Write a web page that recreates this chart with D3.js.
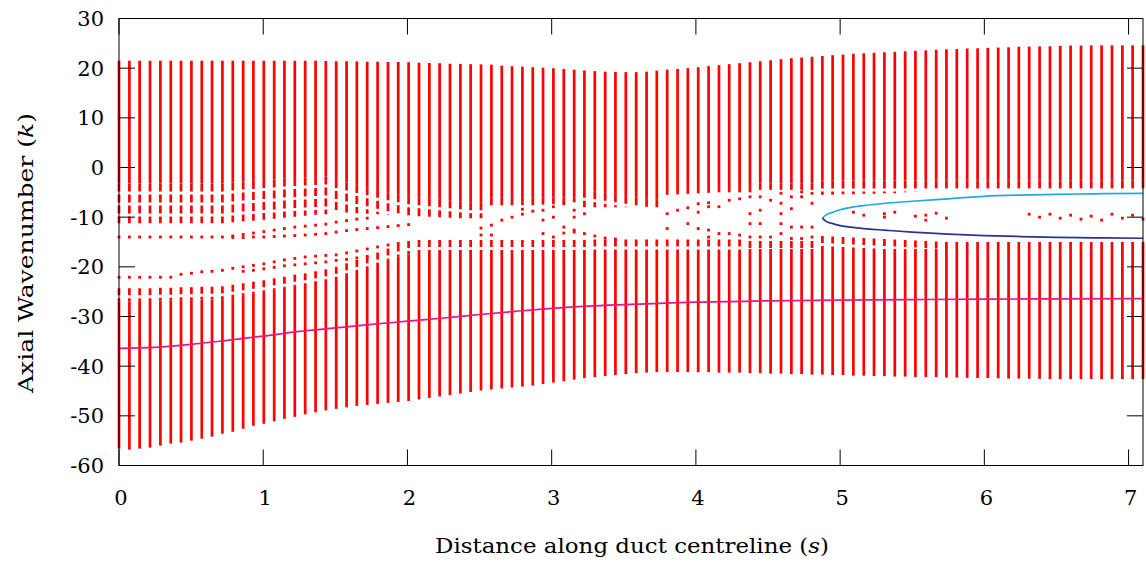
<!DOCTYPE html>
<html>
<head>
<meta charset="utf-8">
<script src="https://cdn.jsdelivr.net/npm/d3@7"></script>
<style>
  body { margin: 0; background: #fff; }
  svg { display: block; }
  text { font-family: "DejaVu Serif", "Liberation Serif", serif; fill: #000; }
</style>
</head>
<body>
<svg id="chart" width="1146" height="565"></svg>
<script>
// Column positions along the duct (s)
const sCols = [0.000,0.072,0.143,0.215,0.287,0.359,0.430,0.502,0.574,0.645,0.717,0.789,0.861,0.932,1.004,1.076,1.147,1.219,1.291,1.363,
  1.434,1.506,1.578,1.649,1.721,1.793,1.865,1.936,2.008,2.080,2.152,2.223,2.295,2.367,2.438,2.510,2.582,2.654,2.725,2.797,
  2.869,2.940,3.012,3.084,3.156,3.227,3.299,3.371,3.442,3.514,3.586,3.658,3.729,3.801,3.873,3.944,4.016,4.088,4.160,4.231,
  4.303,4.375,4.446,4.518,4.590,4.662,4.733,4.805,4.877,4.948,5.020,5.092,5.164,5.235,5.307,5.379,5.451,5.522,5.594,5.666,
  5.737,5.809,5.881,5.953,6.024,6.096,6.168,6.239,6.311,6.383,6.455,6.526,6.598,6.670,6.741,6.813,6.885,6.957,7.028,7.100];

// top / bottom of each eigenvalue column (k)
const kTop = [21.5,21.5,21.5,21.5,21.5,21.5,21.5,21.5,21.5,21.5,21.5,21.5,21.5,21.5,21.5,21.5,21.5,21.5,21.5,21.5,
  21.45,21.4,21.4,21.35,21.3,21.3,21.25,21.25,21.2,21.1,21.05,21.0,20.9,20.85,20.8,20.75,20.7,20.5,20.4,20.3,
  20.2,20.1,20.0,19.85,19.7,19.55,19.4,19.3,19.25,19.2,19.2,19.3,19.5,19.7,19.85,20.0,20.2,20.4,20.6,20.8,
  21.0,21.2,21.4,21.6,21.8,22.0,22.15,22.3,22.45,22.6,22.75,22.9,23.0,23.1,23.2,23.3,23.4,23.5,23.6,23.7,
  23.8,23.85,23.95,24.0,24.1,24.15,24.2,24.3,24.35,24.4,24.4,24.5,24.55,24.55,24.6,24.6,24.6,24.6,24.6,24.6];
const kBot = [-56.6,-56.8,-56.6,-56.4,-56.0,-55.6,-55.4,-55.0,-54.6,-54.2,-53.6,-53.2,-52.6,-52.0,-51.6,-51.1,-50.6,-50.2,-49.7,-49.3,
  -48.9,-48.6,-48.3,-48.0,-47.8,-47.6,-47.4,-47.2,-47.0,-46.7,-46.4,-46.1,-45.8,-45.5,-45.2,-44.9,-44.7,-44.5,-44.3,-44.1,
  -43.9,-43.6,-43.3,-43.0,-42.7,-42.4,-42.2,-42.0,-41.8,-41.6,-41.4,-41.3,-41.2,-41.2,-41.2,-41.2,-41.2,-41.2,-41.3,-41.3,
  -41.3,-41.4,-41.4,-41.5,-41.5,-41.6,-41.6,-41.7,-41.7,-41.8,-41.8,-41.9,-41.9,-42.0,-42.0,-42.1,-42.1,-42.2,-42.2,-42.2,
  -42.3,-42.3,-42.35,-42.4,-42.4,-42.45,-42.5,-42.5,-42.55,-42.55,-42.6,-42.6,-42.6,-42.6,-42.6,-42.6,-42.6,-42.6,-42.6,-42.6];

// upper block: solid down to uSolid, clustered down to uClust
const uSolid = [-3.2,-3.2,-3.2,-3.2,-3.2,-3.2,-3.2,-3.2,-3.2,-3.2,-3.2,-3.0,-2.8,-2.7,-2.5,-2.4,-2.2,-2.1,-2.0,-1.9,
  -1.8,-2.5,-3.0,-3.5,-4.0,-4.5,-5.0,-5.4,-5.8,-6.0,-6.2,-6.4,-6.6,-6.8,-7.0,-7.0,-6.0,-6.0,-6.0,-6.0,
  -6.0,-6.0,-6.0,-6.0,-6.0,-4.5,-4.8,-5.1,-5.4,-5.7,-6.0,-6.3,-6.5,-4.5,-4.5,-4.5,-4.5,-4.5,-4.5,-4.5,
  -4.5,-4.5,-3.2,-3.2,-3.2,-3.2,-3.2,-3.2,-2.6,-2.6,-2.6,-2.6,-2.6,-2.6,-2.6,-2.6,-2.6,-2.6,-2.6,-2.6,
  -2.6,-2.6,-2.6,-2.6,-2.6,-2.6,-2.6,-2.6,-2.6,-2.6,-2.6,-2.6,-2.6,-2.6,-2.6,-2.6,-2.6,-2.6,-2.6,-2.6];
const uClust = [-11.2,-11.2,-11.2,-11.2,-11.2,-11.2,-11.2,-11.2,-11.2,-11.2,-11.2,-11.0,-10.8,-10.7,-10.5,-10.3,-10.1,-9.9,-9.7,-9.5,
  -9.4,-9.0,-9.1,-9.2,-9.3,-9.4,-9.5,-9.6,-9.7,-9.8,-9.9,-10.0,-10.1,-10.2,-10.2,-10.2,-8.0,-7.9,-7.8,-7.7,
  -7.6,-7.5,-7.4,-7.2,-7.0,-8.0,-8.0,-8.0,-8.0,-8.0,-8.0,-8.0,-8.0,-5.5,-5.4,-5.3,-5.2,-5.1,-5.0,-5.0,
  -5.0,-5.0,-4.5,-4.5,-4.5,-4.5,-4.5,-4.5,-5.5,-5.5,-5.4,-5.4,-5.3,-5.3,-5.2,-5.2,-5.0,-4.9,-4.8,-4.7,
  -4.5,-4.3,-4.3,-4.3,-4.3,-4.3,-4.3,-4.3,-4.3,-4.3,-4.3,-4.3,-4.3,-4.3,-4.3,-4.3,-4.3,-4.3,-4.3,-4.3];

// lower block: clustered from lClust, solid from lSolid down to kBot
const lClust = [-24.3,-24.3,-24.3,-24.3,-24.2,-24.2,-24.1,-24.1,-24.0,-24.0,-23.9,-23.6,-23.3,-23.0,-22.7,-22.3,-22.0,-21.6,-21.3,-20.9,
  -20.5,-20.0,-19.3,-18.6,-17.9,-17.1,-16.3,-15.5,-14.8,-14.6,-14.6,-14.6,-14.6,-14.6,-14.6,-14.6,-14.6,-14.6,-14.6,-14.6,
  -14.6,-14.6,-14.6,-14.6,-14.6,-14.6,-14.5,-14.5,-14.5,-14.5,-14.5,-14.5,-14.5,-14.5,-14.5,-14.5,-14.5,-14.5,-14.5,-14.5,
  -14.5,-14.8,-14.8,-14.8,-14.8,-14.8,-14.8,-14.8,-13.8,-13.9,-14.0,-14.1,-14.2,-14.3,-14.4,-14.5,-14.6,-14.7,-14.8,-14.9,
  -15.0,-15.0,-15.0,-15.0,-15.0,-15.0,-15.0,-15.0,-15.0,-15.0,-15.0,-15.0,-15.0,-15.0,-15.0,-15.0,-15.0,-15.0,-15.0,-15.0];
const lSolid = [-27.0,-27.0,-26.9,-26.9,-26.8,-26.8,-26.7,-26.7,-26.6,-26.6,-26.5,-26.1,-25.7,-25.3,-24.9,-24.5,-24.1,-23.7,-23.3,-22.9,
  -22.5,-22.0,-21.3,-20.6,-19.9,-19.2,-18.5,-17.9,-17.5,-17.0,-17.0,-17.0,-17.0,-17.0,-17.0,-17.0,-17.0,-17.0,-17.0,-17.0,
  -17.0,-17.0,-17.0,-17.0,-17.0,-17.0,-16.8,-16.8,-16.8,-16.8,-16.8,-16.8,-16.8,-16.8,-16.8,-16.8,-16.8,-16.8,-16.8,-16.8,
  -16.8,-16.4,-16.4,-16.4,-16.4,-16.4,-16.4,-16.4,-16.4,-16.4,-16.4,-16.4,-16.4,-16.4,-16.4,-16.4,-16.4,-16.4,-16.4,-16.4,
  -16.4,-16.4,-16.4,-16.4,-16.4,-16.4,-16.4,-16.4,-16.4,-16.4,-16.4,-16.4,-16.4,-16.4,-16.4,-16.4,-16.4,-16.4,-16.4,-16.4];

// isolated eigenvalues in the gap, [column index, k]
const modeA = [[0,-14],[1,-14],[2,-14],[3,-14],[4,-14],[5,-14],[6,-14],[7,-14],[8,-14],[9,-14],[10,-14],
  [11,-13.8],[12,-13.5],[13,-13.2],[14,-12.9],[15,-12.6],[16,-12.3],[17,-12.0],[18,-11.8],[19,-11.6],[20,-11.4],
  [21,-11.0],[22,-10.7],[23,-10.4],[24,-10.2]];
const modeB = [[11,-14.1],[12,-14.1],[13,-14.0],[14,-14.0],[15,-13.9],[16,-13.8],[17,-13.7],[18,-13.6],[19,-13.45],
  [20,-13.3],[21,-13.0],[22,-12.7],[23,-12.5],[24,-12.3],[25,-12.1],[26,-11.9],[27,-11.7],[28,-11.5]];
const modeC = [[0,-22.1],[1,-22.1],[2,-22.1],[3,-22.1],[4,-22.1],[5,-22.1],[6,-21.5],[7,-21.3],[8,-21.0],[9,-20.9],
  [10,-20.7],[11,-20.3],[12,-20.0],[13,-19.7],[14,-19.4],[15,-19.0],[16,-18.6],[17,-18.3],[18,-18.0],[19,-17.85],
  [20,-17.7],[21,-17.6],[22,-17.2],[23,-16.8],[24,-16.4],[25,-16.0],[26,-15.6],[27,-15.3]];
const modeD = [[12,-20.9],[13,-20.7],[14,-20.4],[15,-20.1],[16,-19.8],[17,-19.6],[18,-19.4],[19,-19.2],[20,-19.0],
  [21,-18.7],[22,-18.5],[23,-18.2],[24,-17.9]];
const midDots = [[35,-12.2],[35,-13.6],[36,-11.6],[36,-13.6],[37,-10.6],[38,-10.0],[39,-9.4],[39,-8.4],[40,-8.8],
  [41,-8.6],[41,-10.6],[41,-13.3],[42,-7.9],[42,-10.0],[42,-14.0],[43,-7.3],[43,-12.0],[43,-13.2],[44,-8.6],[44,-10.0],
  [44,-12.6],[44,-13.0],[45,-9.3],[45,-13.3],[46,-13.8],[47,-14.2],[48,-14.4]];
const lensDots = [[53,-9.3],[53,-12.3],[54,-8.6],[55,-8.1],[55,-11.3],[56,-7.3],[56,-9.0],[56,-12.3],[57,-7.1],[57,-7.9],
  [57,-12.6],[57,-14.0],[58,-7.9],[58,-13.3],[59,-6.6],[59,-13.3],[60,-6.3],[60,-13.6],[61,-5.9],[61,-9.3],[61,-11.3],[61,-14.0],
  [62,-5.9],[62,-8.6],[62,-11.3],[62,-14.0],[63,-6.6],[63,-14.0],[64,-5.2],[64,-7.2],[64,-9.3],[64,-11.3],[64,-13.3],
  [65,-5.9],[65,-8.3],[65,-12.0],[65,-14.3],[66,-4.9],[66,-5.9],[66,-12.0],[66,-14.3],[67,-5.2],[67,-7.2],[67,-12.0],[67,-14.0]];
const rightDots = [[71,-9.0],[72,-9.6],[74,-9.3],[74,-10.0],[75,-9.0],[77,-9.8],[78,-9.6],[78,-10.6],[79,-9.2],[80,-10.2],
  [88,-9.4],[89,-10.0],[90,-9.4],[91,-10.2],[92,-9.6],[93,-10.4],[94,-9.8],[95,-10.6],[96,-9.4],[97,-10.2],[98,-9.6],[99,-10.4]];

// tracked modes
const magS = [0,0.25,0.5,0.75,1.0,1.25,1.5,1.75,2.0,2.25,2.5,2.75,3.0,3.25,3.5,3.75,4.0,4.5,5.0,5.5,6.0,6.5,7.1];
const magK = [-36.4,-36.2,-35.6,-34.8,-33.95,-33.0,-32.3,-31.6,-30.95,-30.3,-29.6,-28.95,-28.35,-27.9,-27.6,-27.35,-27.1,-26.85,-26.7,-26.6,-26.5,-26.45,-26.4];
const cyanS = [4.877,4.90,4.95,5.0,5.1,5.2,5.3,5.5,5.75,6.0,6.25,6.5,6.75,7.1];
const cyanK = [-10.2,-9.6,-9.0,-8.5,-7.9,-7.55,-7.25,-6.8,-6.3,-5.8,-5.55,-5.4,-5.3,-5.2];
const navyS = [4.877,4.90,4.95,5.0,5.1,5.2,5.3,5.5,5.75,6.0,6.25,6.5,6.75,7.1];
const navyK = [-10.2,-10.8,-11.3,-11.7,-12.1,-12.4,-12.6,-13.0,-13.4,-13.7,-13.9,-14.05,-14.15,-14.25];

const xTicks = [0,1,2,3,4,5,6,7];
const yTicks = [-60,-50,-40,-30,-20,-10,0,10,20,30];

const width = 1146, height = 565;
const margin = { top: 18.5, right: 3, bottom: 99.5, left: 119 };
const svg = d3.select('#chart');

const x = d3.scaleLinear().domain([0, 7.1]).range([margin.left, width - margin.right]);
const y = d3.scaleLinear().domain([-60, 30]).range([height - margin.bottom, margin.top]);

const red = '#ff0000';
const colW = 2.7;

// eigenvalue columns
const cols = svg.append('g');
sCols.forEach((s, i) => {
  const cx = x(s);
  const seg = (k1, k2, dash) => {
    if (k1 <= k2) return;
    const l = cols.append('line')
      .attr('x1', cx).attr('x2', cx)
      .attr('y1', y(k1)).attr('y2', y(k2))
      .attr('stroke', red).attr('stroke-width', colW);
    if (dash) l.attr('stroke-dasharray', dash);
  };
  seg(kTop[i], uSolid[i]);
  seg(uSolid[i], uClust[i], '8 3');
  seg(lClust[i], lSolid[i], '7 3');
  seg(lSolid[i], kBot[i]);
});

// isolated eigenvalues
const dots = [].concat(modeA, modeB, modeC, modeD, midDots, lensDots, rightDots);
cols.selectAll('rect.dot')
  .data(dots)
  .enter()
  .append('rect')
  .attr('class', 'dot')
  .attr('x', d => x(sCols[d[0]]) - 1.4)
  .attr('y', d => y(d[1]) - 1.4)
  .attr('width', 2.8)
  .attr('height', 2.8)
  .attr('fill', red);

// tracked mode lines
const line = d3.line().x(d => x(d[0])).y(d => y(d[1])).curve(d3.curveMonotoneX);
const addLine = (sArr, kArr, colour) => {
  svg.append('path')
    .datum(sArr.map((s, i) => [s, kArr[i]]))
    .attr('fill', 'none')
    .attr('stroke', colour)
    .attr('stroke-width', 1.7)
    .attr('d', line);
};
addLine(magS, magK, '#e5197f');
addLine(cyanS, cyanK, '#22a8e4');
addLine(navyS, navyK, '#2e3191');

// frame and ticks (mirrored, inward)
const x0 = x(0), x1 = x(7.1), y0 = y(-60), y1 = y(30);
const axes = svg.append('g').attr('stroke', '#000').attr('stroke-width', 1);
const tickLen = 16;
xTicks.forEach(t => {
  axes.append('line').attr('x1', x(t)).attr('x2', x(t)).attr('y1', y0).attr('y2', y0 - tickLen);
  axes.append('line').attr('x1', x(t)).attr('x2', x(t)).attr('y1', y1).attr('y2', y1 + tickLen);
});
yTicks.forEach(t => {
  axes.append('line').attr('x1', x0).attr('x2', x0 + tickLen).attr('y1', y(t)).attr('y2', y(t));
  axes.append('line').attr('x1', x1).attr('x2', x1 - tickLen).attr('y1', y(t)).attr('y2', y(t));
});
axes.append('rect')
  .attr('x', x0).attr('y', y1)
  .attr('width', x1 - x0).attr('height', y0 - y1)
  .attr('fill', 'none');

// tick labels
svg.append('g').selectAll('text')
  .data(xTicks)
  .enter()
  .append('text')
  .attr('x', d => x(d) + 2)
  .attr('y', y0 + 39)
  .attr('text-anchor', 'middle')
  .attr('font-size', 21)
  .text(d => d);

svg.append('g').selectAll('text')
  .data(yTicks)
  .enter()
  .append('text')
  .attr('x', x0 - 15)
  .attr('y', d => y(d) + 7.5)
  .attr('text-anchor', 'end')
  .attr('font-size', 21)
  .text(d => d);

// axis labels
const xl = svg.append('text')
  .attr('x', 632)
  .attr('y', 553)
  .attr('text-anchor', 'middle')
  .attr('font-size', 21)
  .attr('textLength', 394)
  .attr('lengthAdjust', 'spacingAndGlyphs');
xl.append('tspan').text('Distance along duct centreline (');
xl.append('tspan').attr('font-style', 'italic').text('s');
xl.append('tspan').text(')');

const yl = svg.append('text')
  .attr('transform', 'translate(33,253) rotate(-90)')
  .attr('text-anchor', 'middle')
  .attr('font-size', 21)
  .attr('textLength', 280)
  .attr('lengthAdjust', 'spacingAndGlyphs');
yl.append('tspan').text('Axial Wavenumber (');
yl.append('tspan').attr('font-style', 'italic').text('k');
yl.append('tspan').text(')');
</script>
</body>
</html>
